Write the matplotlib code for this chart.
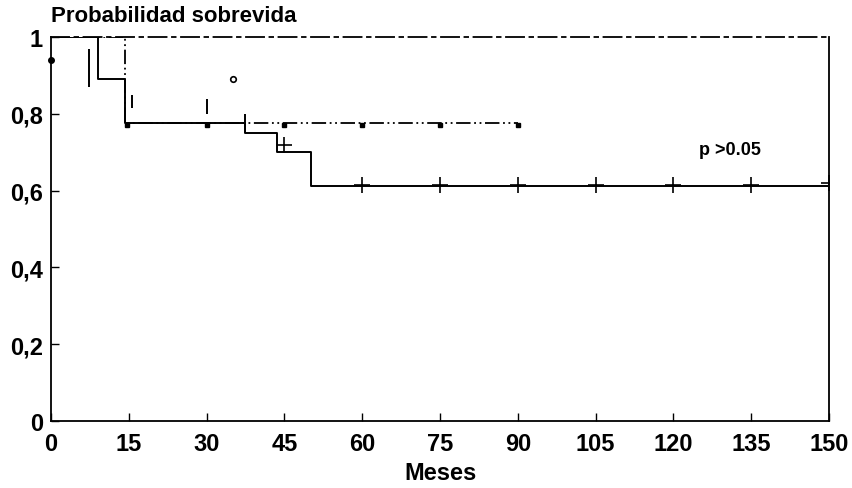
import matplotlib
matplotlib.use("Agg")
import matplotlib.pyplot as plt

plt.rcParams['font.family'] = ['Liberation Sans', 'DejaVu Sans']

# ------------------------------------------------------------
# Data
# ------------------------------------------------------------
# group A: solid step curve with "+" censor marks
a_times = [0, 9.1, 14.3, 37.4, 43.5, 50.2, 150]
a_surv = [1.0, 0.89, 0.777, 0.75, 0.70, 0.612, 0.612]
a_cens_t = [45, 60, 75, 90, 105, 120, 135, 150]
a_cens_s = [0.72, 0.615, 0.615, 0.615, 0.615, 0.615, 0.615, 0.62]

# group B: dash-dot step curve with dot censor marks
b_times = [0, 14.3, 90]
b_surv = [1.0, 0.777, 0.777]
b_cens_t = [14.6, 30, 45, 60, 75, 90]
b_cens_s = [0.772, 0.772, 0.772, 0.772, 0.772, 0.772]

# loose vertical tick marks near the top of the curves
tick_t = [7.4, 15.6, 30.0, 37.4]
tick_lo = [0.87, 0.815, 0.80, 0.75]
tick_hi = [0.97, 0.85, 0.84, 0.80]

x_ticks = [0, 15, 30, 45, 60, 75, 90, 105, 120, 135, 150]
y_ticks = [0, 0.2, 0.4, 0.6, 0.8, 1]
y_labels = ['0', '0,2', '0,4', '0,6', '0,8', '1']

# ------------------------------------------------------------
# Plot
# ------------------------------------------------------------
fig = plt.figure(figsize=(8.52, 4.89), dpi=100)
ax = fig.add_axes([0.060, 0.137, 0.913, 0.785])

ax.step(a_times, a_surv, where='post', color='black', linewidth=1.4)
ax.plot(a_cens_t, a_cens_s, linestyle='none', marker='+', markersize=11,
        markeredgewidth=1.2, color='black')

ax.step(b_times, b_surv, where='post', color='black', linewidth=1.3,
        linestyle=(0, (8, 2, 1, 2, 1, 2)))
ax.plot(b_cens_t, b_cens_s, linestyle='none', marker='s', markersize=3.5,
        color='black')

ax.vlines(tick_t, tick_lo, tick_hi, color='black', linewidth=1.4)
ax.plot([0], [0.94], marker='o', markersize=4, color='black', clip_on=False)
ax.plot([35], [0.89], marker='o', markersize=4, markerfacecolor='white',
        markeredgecolor='black', markeredgewidth=1.2)

ax.text(125, 0.695, 'p >0.05', fontsize=13, fontweight='bold')

ax.set_xlim(0, 150)
ax.set_ylim(0, 1)
ax.set_xticks(x_ticks)
ax.set_yticks(y_ticks)
ax.set_yticklabels(y_labels)
ax.tick_params(direction='in', length=6, width=1, labelsize=17)
ax.tick_params(axis='x', pad=8)
ax.tick_params(axis='y', pad=6)
for label in ax.get_xticklabels() + ax.get_yticklabels():
    label.set_fontweight('bold')

ax.spines['top'].set_linestyle((0, (10, 3, 2, 3)))
for s in ax.spines.values():
    s.set_linewidth(1.3)

ax.set_xlabel('Meses', fontsize=17, fontweight='bold', labelpad=4)
fig.text(0.060, 0.945, 'Probabilidad sobrevida', fontsize=16,
         fontweight='bold', ha='left', va='bottom')

plt.savefig('out.png', dpi=100)
